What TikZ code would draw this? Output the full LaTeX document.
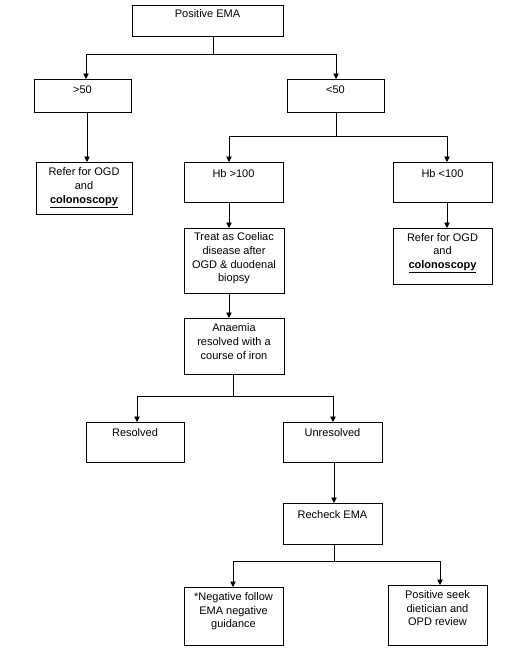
\documentclass[tikz,border=0pt]{standalone}
\usepackage{fontspec}
\setmainfont{Liberation Sans}
\usetikzlibrary{arrows.meta}
\newcommand\bxt[4]{\parbox[c][#2pt][t]{#1pt}{\centering\fontsize{11}{13.7}\selectfont\vspace*{#3pt}\strut #4\par}}
\newcommand\colo{\textbf{\underline{colonoscopy}}}
\begin{document}
\begin{tikzpicture}[x=1pt,y=-1pt,
  box/.style={draw, inner sep=0pt, outer sep=0pt, line width=0.9pt, anchor=north west},
  arr/.style={-{Triangle[length=5.5pt,width=5.5pt]}, line width=0.9pt}]
\useasboundingbox (0,0) rectangle (508,659);
\node[box] (pos) at (132,5) {\bxt{151}{31}{2.6}{Positive EMA}};
\node[box] (gt) at (34,79) {\bxt{97}{33}{5.3}{>50}};
\node[box] (lt) at (287,79) {\bxt{97}{33}{5.3}{<50}};
\node[box] (refl) at (36,162) {\bxt{96}{52}{4.3}{Refer for OGD\\and\\\colo}};
\node[box] (hbg) at (184,162) {\bxt{99}{40}{6.3}{Hb >100}};
\node[box] (hbl) at (393,162) {\bxt{99}{40}{6.3}{Hb <100}};
\node[box] (treat) at (184,228) {\bxt{100}{65}{3.3}{Treat as Coeliac\\disease after\\OGD \& duodenal\\biopsy}};
\node[box] (refr) at (393,228) {\bxt{99}{56}{3.6}{Refer for OGD\\and\\\colo}};
\node[box] (anae) at (184,318) {\bxt{100}{56}{4.3}{Anaemia\\resolved with a\\course of iron}};
\node[box] (res) at (86,422) {\bxt{98}{40}{5.3}{Resolved}};
\node[box] (unres) at (283,422) {\bxt{99}{40}{5.3}{Unresolved}};
\node[box] (rech) at (283,503) {\bxt{99}{41}{6}{Recheck EMA}};
\node[box] (neg) at (184,587) {\bxt{99}{58}{4}{*Negative follow\\EMA negative\\guidance}};
\node[box] (posk) at (388,585) {\bxt{99}{60}{4}{Positive seek\\dietician and\\OPD review}};
\coordinate (j1) at (213,54); \coordinate (a1) at (86,54); \coordinate (a2) at (336,54);
\draw[arr] (pos.south -| j1) |- (a1) -- (gt.north -| a1);
\draw[arr] (j1) -| (lt.north -| a2);
\coordinate (c1) at (87,0);
\draw[arr] (gt.south -| c1) -- (refl.north -| c1);
\coordinate (j2) at (336,136); \coordinate (b1) at (229,136); \coordinate (b2) at (447,136);
\draw[arr] (lt.south -| j2) |- (b1) -- (hbg.north -| b1);
\draw[arr] (j2) -| (hbl.north -| b2);
\draw[arr] (hbg.south -| b1) -- (treat.north -| b1);
\draw[arr] (hbl.south -| b2) -- (refr.north -| b2);
\draw[arr] (treat.south -| b1) -- (anae.north -| b1);
\coordinate (j3) at (233,396); \coordinate (d1) at (137,396); \coordinate (d2) at (333,396);
\draw[arr] (anae.south -| j3) |- (d1) -- (res.north -| d1);
\draw[arr] (j3) -| (unres.north -| d2);
\coordinate (e1) at (334,0);
\draw[arr] (unres.south -| e1) -- (rech.north -| e1);
\coordinate (j4) at (334,561); \coordinate (f1) at (233,561); \coordinate (f2) at (440,561);
\draw[arr] (rech.south -| j4) |- (f1) -- (neg.north -| f1);
\draw[arr] (j4) -| (posk.north -| f2);
\end{tikzpicture}
\end{document}
